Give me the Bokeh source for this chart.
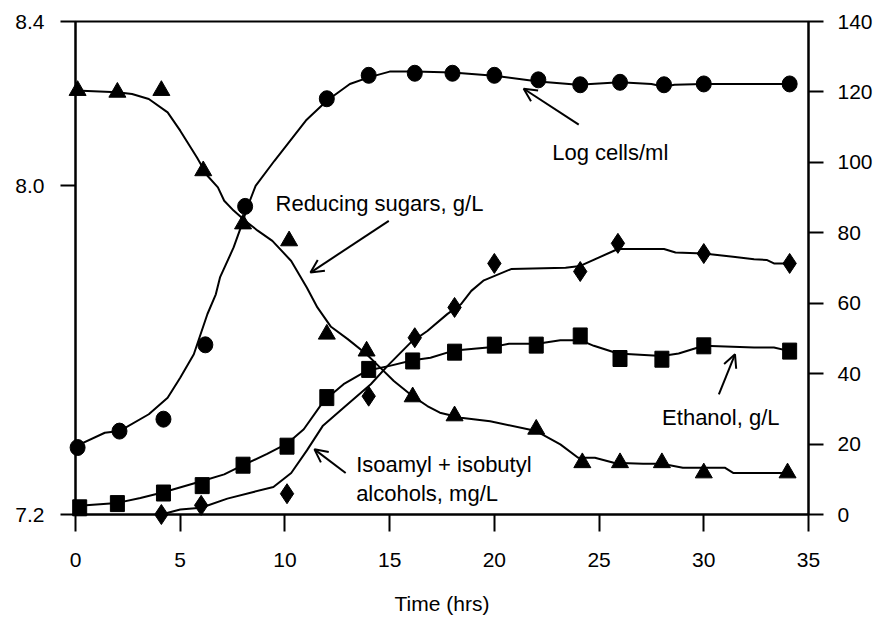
from bokeh.plotting import figure
from bokeh.models import Range1d, LinearAxis, FixedTicker, Arrow, OpenHead, PrintfTickFormatter
from bokeh.core.properties import value
from bokeh.embed import file_html
from bokeh.resources import INLINE

# ---------------- data ----------------
# Log cells/ml (left axis)
cells_t = [0.1, 2.1, 4.2, 6.2, 8.1, 12.0, 14.0, 16.2, 18.0, 20.0, 22.1, 24.1, 26.0, 28.1, 30.0, 34.1]
cells = [7.363, 7.403, 7.432, 7.613, 7.950, 8.212, 8.269, 8.274, 8.274, 8.269, 8.258, 8.246, 8.252, 8.246, 8.248, 8.248]
cells_fit_t = [0, 1.4, 2.1, 3.5, 4.4, 5.0, 5.65, 6.3, 6.7, 6.9, 7.55, 7.95, 8.2, 8.6, 9.5, 11.0,
               12.0, 13.1, 14.0, 15.0, 16.2, 18.0, 20.0, 22.1, 24.0, 26.0, 27.5, 28.1, 28.6, 30.0, 34.1]
cells_fit = [7.366, 7.399, 7.403, 7.444, 7.484, 7.533, 7.590, 7.688, 7.736, 7.777, 7.850, 7.907, 7.947,
             8.000, 8.061, 8.159, 8.207, 8.248, 8.264, 8.278, 8.278, 8.276, 8.268, 8.254, 8.246, 8.252,
             8.248, 8.241, 8.246, 8.248, 8.248]

# Reducing sugars, g/L (right axis)
sugar_t = [0.1, 2.0, 4.1, 6.1, 8.0, 10.2, 12.0, 13.9, 16.1, 18.1, 22.0, 24.2, 26.0, 28.0, 30.0, 34.0]
sugar = [120.4, 119.9, 120.4, 97.6, 82.5, 77.7, 51.2, 46.4, 33.4, 28.0, 24.2, 14.7, 14.7, 14.7, 11.8, 11.8]
sugar_fit_t = [0, 2.0, 2.7, 3.5, 4.4, 5.0, 5.8, 6.3, 6.8, 7.1, 7.55, 8.1, 8.7, 9.4, 10.3, 11.05, 11.55,
               12.2, 13.0, 13.9, 14.55, 15.2, 16.1, 16.8, 17.4, 18.4, 19.8, 22.0, 23.15, 24.0, 24.8,
               25.7, 27.1, 28.0, 29.0, 31.0, 31.4, 34.0]
sugar_fit = [120.4, 119.9, 119.4, 118.0, 114.2, 109.0, 101.4, 96.2, 92.9, 89.1, 86.3, 83.4, 80.6, 77.7,
             72.0, 64.4, 58.8, 53.3, 49.8, 45.5, 41.7, 37.9, 33.6, 30.8, 28.9, 27.5, 26.5, 23.7, 19.9,
             16.1, 16.1, 14.7, 14.4, 14.4, 13.3, 13.3, 11.8, 11.8]

# Isoamyl + isobutyl alcohols, mg/L (right axis)
alc_t = [4.1, 6.0, 10.1, 14.0, 16.2, 18.1, 20.0, 24.1, 25.9, 30.0, 34.1]
alc = [0.0, 2.6, 5.9, 33.6, 50.2, 58.8, 71.3, 69.0, 77.0, 74.1, 71.3]
alc_fit_t = [4.1, 5.0, 6.0, 7.25, 8.5, 9.45, 10.3, 11.05, 11.8, 12.8, 14.1, 14.9, 16.0, 16.8, 17.75,
             18.4, 18.9, 19.5, 20.8, 23.4, 24.1, 25.9, 28.1, 28.65, 30.0, 31.4, 32.4, 33.0, 33.35, 34.1]
alc_fit = [0.0, 1.4, 1.9, 4.5, 6.4, 7.8, 11.8, 18.2, 25.1, 30.3, 37.0, 42.2, 48.8, 52.1, 56.9, 59.7,
           63.5, 66.5, 69.7, 70.1, 70.6, 75.4, 75.4, 74.4, 74.1, 73.2, 72.5, 72.3, 71.3, 71.3]

# Ethanol, g/L (right axis)
eth_t = [0.2, 2.0, 4.2, 6.05, 8.0, 10.1, 12.0, 14.0, 16.1, 18.1, 20.0, 22.0, 24.1, 26.0, 28.0, 30.0, 34.1]
eth = [1.9, 3.1, 6.1, 8.2, 14.0, 19.4, 33.2, 41.2, 43.6, 46.1, 48.1, 48.1, 50.7, 44.3, 44.1, 47.9, 46.4]
eth_fit_t = [0, 2.0, 3.1, 4.2, 6.05, 7.1, 8.0, 9.15, 10.1, 10.9, 11.85, 12.8, 13.9, 15.0, 16.1, 16.95,
             18.1, 19.95, 20.7, 22.05, 23.15, 24.1, 24.75, 25.9, 28.0, 28.8, 30.0, 32.4, 33.35, 34.1]
eth_fit = [2.4, 3.3, 4.7, 6.3, 9.5, 11.4, 14.0, 17.2, 20.1, 24.2, 32.2, 37.0, 40.8, 42.2, 43.8, 44.5,
           46.6, 47.6, 48.5, 48.5, 49.5, 49.5, 47.9, 45.7, 45.0, 45.7, 47.9, 47.4, 47.4, 46.4]

# axes
x_ticks = [0, 5, 10, 15, 20, 25, 30, 35]
left_ticks = [7.2, 8.0, 8.4]
right_ticks = [0, 20, 40, 60, 80, 100, 120, 140]
x_title = "Time (hrs)"

# annotations
label_texts = ["Log cells/ml", "Reducing sugars, g/L", "Ethanol, g/L", "Isoamyl + isobutyl", "alcohols, mg/L"]

# ---------------- styling / layout ----------------
FONT = "Liberation Sans"
LBL_X = [22.76, 9.55, 28.01, 13.40, 13.40]
LBL_Y = [102.8, 88.2, 27.5, 14.2, 5.9]
ARROWS = [  # (x_start, y_start, x_end, y_end)
    (24.03, 110.7, 21.40, 120.9),
    (14.96, 83.4, 11.22, 68.7),
    (30.72, 34.1, 31.49, 45.5),
    (12.90, 11.8, 11.41, 18.5),
]

p = figure(frame_width=733, frame_height=493,
           min_border_left=75, min_border_right=75, min_border_top=21, min_border_bottom=108,
           x_range=Range1d(0, 35), y_range=Range1d(0, 140),
           y_axis_location="right", toolbar_location=None, output_backend="svg",
           background_fill_color="white", border_fill_color="white")
p.extra_y_ranges = {"cells": Range1d(7.2, 8.4)}
p.xgrid.grid_line_color = None
p.ygrid.grid_line_color = None
p.outline_line_color = "black"
p.outline_line_width = 2
p.outline_line_alpha = 1.0

right = p.right[0]
bottom = p.below[0]
left = LinearAxis(y_range_name="cells", ticker=FixedTicker(ticks=left_ticks),
                  formatter=PrintfTickFormatter(format="%.1f"))
p.add_layout(left, "left")

bottom.ticker = FixedTicker(ticks=x_ticks)
right.ticker = FixedTicker(ticks=right_ticks)
bottom.axis_label = x_title

for ax in [bottom, right, left]:
    ax.axis_line_color = "black"
    ax.axis_line_width = 2
    ax.major_tick_line_color = "black"
    ax.major_tick_line_width = 2
    ax.major_tick_in = 0
    ax.major_tick_out = 15
    ax.minor_tick_line_color = None
    ax.major_label_text_font = FONT
    ax.major_label_text_font_size = "21px"
    ax.major_label_text_color = "black"
    ax.major_label_standoff = 16

bottom.major_tick_out = 17
bottom.major_label_standoff = 21
right.major_label_standoff = 14
bottom.axis_label_text_font = FONT
bottom.axis_label_text_font_size = "21px"
bottom.axis_label_text_font_style = "normal"
bottom.axis_label_text_color = "black"
bottom.axis_label_standoff = 22

LW = 2
# fitted curves
p.line(cells_fit_t, cells_fit, y_range_name="cells", line_color="black", line_width=LW)
p.line(sugar_fit_t, sugar_fit, line_color="black", line_width=LW)
p.line(alc_fit_t, alc_fit, line_color="black", line_width=LW)
p.line(eth_fit_t, eth_fit, line_color="black", line_width=LW)

# markers (overlay level so edge markers are not clipped)
r1 = p.ellipse(cells_t, cells, width=15, height=16, width_units="screen", height_units="screen",
               y_range_name="cells", fill_color="black", line_color="black")
r2 = p.scatter(sugar_t, sugar, marker="triangle", size=17, fill_color="black", line_color="black")
r3 = p.scatter(alc_t, alc, marker="diamond", size=20, fill_color="black", line_color="black")
r4 = p.rect(eth_t, eth, width=14, height=16, width_units="screen", height_units="screen",
            fill_color="black", line_color="black")
for r in (r1, r2, r3, r4):
    r.level = "overlay"

# annotation texts
t = p.text(x=LBL_X, y=LBL_Y, text=label_texts, text_font=value(FONT), text_font_size=value("22px"),
           text_align="left", text_baseline="alphabetic", text_color="black")
t.level = "overlay"

for (xs, ys, xe, ye) in ARROWS:
    p.add_layout(Arrow(x_start=xs, y_start=ys, x_end=xe, y_end=ye, line_width=2, line_color="black",
                       end=OpenHead(size=13, line_width=2, line_color="black")))

open("out.html", "w").write(file_html(p, INLINE))
